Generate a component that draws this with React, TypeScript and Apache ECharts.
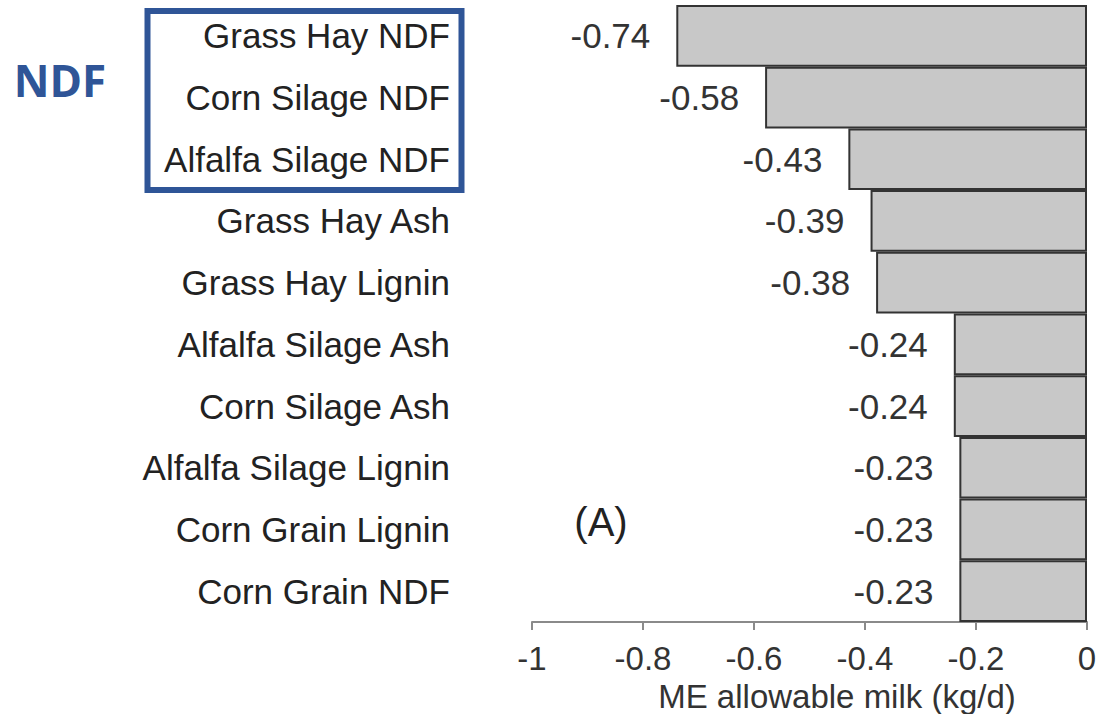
import React, { useEffect, useRef } from "react";
import * as echarts from "echarts";

const categories = [
  "Grass Hay NDF",
  "Corn Silage NDF",
  "Alfalfa Silage NDF",
  "Grass Hay Ash",
  "Grass Hay Lignin",
  "Alfalfa Silage Ash",
  "Corn Silage Ash",
  "Alfalfa Silage Lignin",
  "Corn Grain Lignin",
  "Corn Grain NDF",
];
const values = [-0.74, -0.58, -0.43, -0.39, -0.38, -0.24, -0.24, -0.23, -0.23, -0.23];
const axisTitle = "ME allowable milk (kg/d)";
const panelLabel = "(A)";
const groupLabel = "NDF";

const FONT = "'Liberation Sans', Arial, Helvetica, sans-serif";

export default function App() {
  const ref = useRef<HTMLDivElement>(null);
  useEffect(() => {
    if (!ref.current) return;
    const chart = echarts.init(ref.current, null, { renderer: "svg" });
    chart.setOption({
      animation: false,
      backgroundColor: "#ffffff",
      grid: {
        left: 532,
        right: 12,
        top: 5,
        bottom: 92,
        containLabel: false,
        outerBoundsMode: "none",
      },
      xAxis: {
        type: "value",
        min: -1,
        max: 0,
        interval: 0.2,
        splitLine: { show: false },
        axisLine: { show: true, lineStyle: { color: "#8a8a8a", width: 2 } },
        axisTick: { show: true, length: 8, lineStyle: { color: "#8a8a8a", width: 2 } },
        axisLabel: { fontSize: 33, color: "#333", fontFamily: FONT, margin: 20 },
        name: axisTitle,
        nameLocation: "middle",
        nameGap: 46,
        nameTextStyle: {
          fontSize: 33,
          color: "#333",
          fontFamily: FONT,
          padding: [0, 0, 0, 55],
        },
      },
      yAxis: {
        type: "category",
        data: categories,
        inverse: true,
        axisLine: { show: false },
        axisTick: { show: false },
        splitLine: { show: false },
        axisLabel: { fontSize: 35, color: "#222", fontFamily: FONT, margin: 82 },
      },
      series: [
        {
          type: "bar",
          data: values,
          barWidth: "100%",
          barCategoryGap: 0,
          itemStyle: { color: "#c8c8c8", borderColor: "#333", borderWidth: 2 },
          label: {
            show: true,
            position: "left",
            distance: 26,
            fontSize: 35,
            color: "#333",
            fontFamily: FONT,
            formatter: (p: any) => String(p.value),
          },
        },
      ],
      graphic: [
        {
          type: "rect",
          shape: { x: 147.5, y: 11, width: 314, height: 179 },
          style: { fill: "none", stroke: "#2f5597", lineWidth: 6 },
        },
        {
          type: "text",
          x: 60,
          y: 80,
          style: {
            text: groupLabel,
            fill: "#2f5597",
            font: "bold 44px 'Open Sans', 'Noto Sans', sans-serif",
            textAlign: "center",
            textVerticalAlign: "middle",
          },
        },
        {
          type: "text",
          x: 601,
          y: 522,
          style: {
            text: panelLabel,
            fill: "#222",
            font: `40px ${FONT}`,
            textAlign: "center",
            textVerticalAlign: "middle",
          },
        },
      ],
    });
    return () => chart.dispose();
  }, []);
  return <div ref={ref} style={{ width: 1099, height: 714, position: "absolute", left: 0, top: 0 }} />;
}
